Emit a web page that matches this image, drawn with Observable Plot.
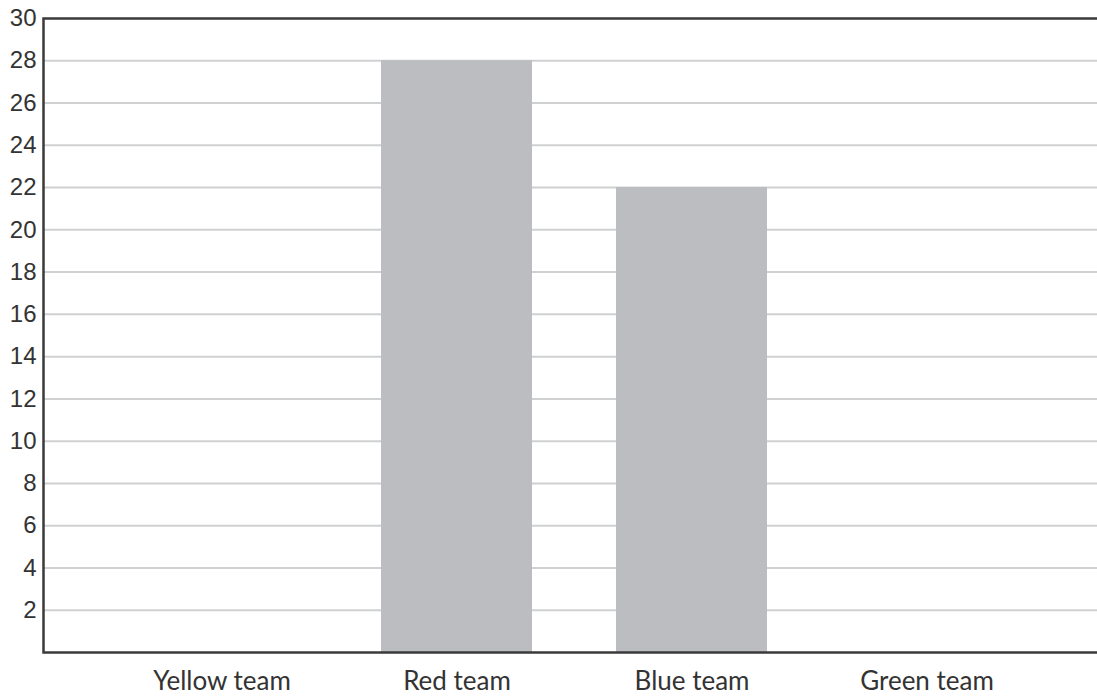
<!DOCTYPE html>
<html>
<head>
<meta charset="utf-8">
<script src="https://cdn.jsdelivr.net/npm/d3@7"></script>
<script src="https://cdn.jsdelivr.net/npm/@observablehq/plot@0.6"></script>
<style>
  html, body { margin: 0; padding: 0; background: #fff; overflow: hidden; }
  #chart { width: 1097px; overflow: hidden; }
  #chart svg { display: block; max-width: none !important; }
</style>
</head>
<body>
<div id="chart"></div>
<script>
const teams = ["Yellow team", "Red team", "Blue team", "Green team"];
const scores = [0, 28, 22, 0];
const yTicks = [2, 4, 6, 8, 10, 12, 14, 16, 18, 20, 22, 24, 26, 28, 30];

const data = teams.map((t, i) => ({team: t, score: scores[i]}));

const chart = Plot.plot({
  width: 1106,
  height: 697,
  marginTop: 18,
  marginBottom: 45,
  marginLeft: 43,
  marginRight: 0,
  style: {fontFamily: "Lato, 'Noto Sans', sans-serif", background: "#fff", maxWidth: "none"},
  x: {domain: teams, paddingInner: 0.357, paddingOuter: 0.44, align: 0.5, label: null},
  y: {domain: [0, 30], label: null},
  marks: [
    Plot.ruleY(yTicks.filter(d => d < 30), {stroke: "#cfd0d2", strokeWidth: 2, strokeOpacity: 1}),
    Plot.barY(data, {x: "team", y: "score", fill: "#bcbdc1"}),
    Plot.frame({stroke: "#3a3a3a", strokeWidth: 2.5}),
    Plot.axisY(yTicks, {tickSize: 0, tickPadding: 7, fontSize: 24, fill: "#333", label: null, fontFamily: "'Liberation Sans Narrow', 'Liberation Sans', Arial, sans-serif"}),
    Plot.axisX({tickSize: 0, tickPadding: 19, fontSize: 26, fill: "#333", label: null})
  ]
});
document.getElementById("chart").appendChild(chart);
</script>
</body>
</html>
